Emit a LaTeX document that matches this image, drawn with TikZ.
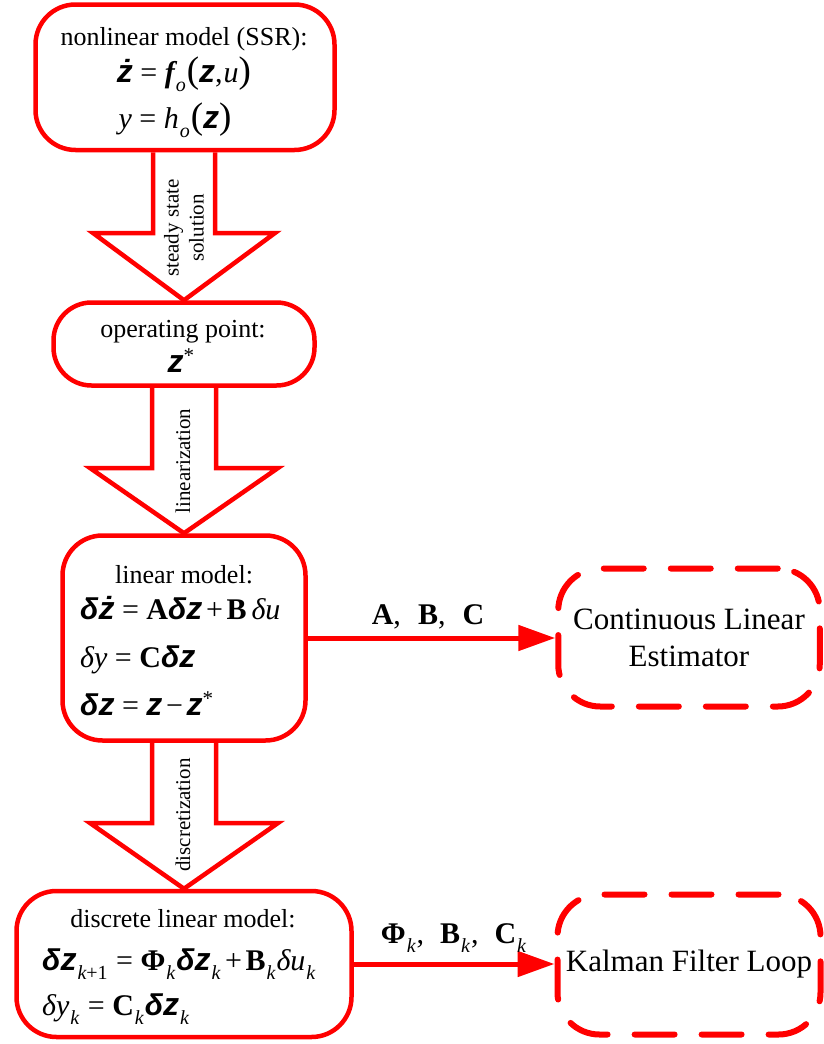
\documentclass[tikz,border=0pt]{standalone}
\usepackage{fontspec}
\setmainfont{Liberation Serif}
\newfontfamily\sansfam{Liberation Sans}
\usetikzlibrary{arrows.meta,calc}
\newcommand\vz{{\sansfam\bfseries\itshape\fontsize{32}{32}\selectfont z}}
\newcommand\vzdot{{\sansfam\bfseries\itshape\fontsize{32}{32}\selectfont ż}}
\newcommand\bd{{\sansfam\bfseries\itshape\fontsize{30}{30}\selectfont δ}}
\newcommand\dl{{\itshape δ}}
\newcommand\sbk[1]{\kern1pt\raisebox{-0.3em}{\fontsize{20}{20}\selectfont\itshape #1}\kern1pt}
\newcommand\eqs{\hspace{0.25em}=\hspace{0.25em}}
\newcommand\pls{\hspace{0.12em}+\hspace{0.12em}}
\newcommand\mns{\hspace{0.12em}−\hspace{0.12em}}
\newcommand\bigp[1]{{\fontsize{37}{37}\selectfont #1}}
\tikzset{
  box/.style={draw=red, line width=4.5pt, rounded corners=40pt, inner sep=0pt},
  dbox/.style={draw=red, line width=6pt, rounded corners=42pt, dash pattern=on 40pt off 27pt,
    line cap=round, inner sep=0pt, align=center, font=\fontsize{31}{37}\selectfont},
  blk/.style={draw=red, line width=4.5pt, line join=miter},
  conn/.style={draw=red, line width=5pt, -{Triangle[length=37pt,width=25pt]}},
  ttl/.style={font=\fontsize{26}{30}\selectfont, anchor=base, inner sep=0pt},
  eqc/.style={font=\fontsize{30}{32}\selectfont, anchor=base, inner sep=0pt},
  eq/.style={font=\fontsize{30}{32}\selectfont, anchor=base west, inner sep=0pt},
  rot/.style={font=\fontsize{21}{25}\selectfont, rotate=90, align=center, inner sep=0pt},
  lab/.style={font=\fontsize{30}{32}\selectfont, anchor=base, inner sep=0pt}
}
\begin{document}
\begin{tikzpicture}[x=1pt,y=-1pt]
\useasboundingbox (0,0) rectangle (823,1044);
% boxes
\node[box, minimum width=299pt, minimum height=145.5pt] (b1) at (185,77.25) {};
\node[box, rounded corners=38pt, minimum width=261pt, minimum height=83pt] (b2) at (184,344) {};
\node[box, minimum width=243pt, minimum height=205pt] (b3) at (184,638) {};
\node[box, minimum width=335pt, minimum height=146pt] (b4) at (184,964) {};
\node[dbox, minimum width=261.5pt, minimum height=138pt] (b5) at (689,637.5) {Continuous Linear\\Estimator};
\node[dbox, minimum width=263pt, minimum height=140pt] (b6) at (689,964.5) {Kalman Filter Loop};
% block arrows
\draw[blk] let \p1=(b2.north), \p2=(b1.south) in
  (\x1-31pt,\y2) -- (\x1-31pt,-233pt) -- (\x1-91pt,-233pt) -- (\p1)
  -- (\x1+91pt,-233pt) -- (\x1+31pt,-233pt) -- (\x1+31pt,\y2);
\draw[blk] let \p1=(b3.north), \p2=(b2.south) in
  (\x1-32pt,\y2) -- (\x1-32pt,-468pt) -- (\x1-94pt,-468pt) -- (\p1)
  -- (\x1+94pt,-468pt) -- (\x1+32pt,-468pt) -- (\x1+32pt,\y2);
\draw[blk] let \p1=(b4.north), \p2=(b3.south) in
  (\x1-32pt,\y2) -- (\x1-32pt,-823pt) -- (\x1-94pt,-823pt) -- (\p1)
  -- (\x1+94pt,-823pt) -- (\x1+32pt,-823pt) -- (\x1+32pt,\y2);
\node[rot] (l1) at (184,228) {steady state\\solution};
\node[rot] (l2) at (183,461) {linearization};
\node[rot] (l3) at (183,815) {discretization};
% connectors
\draw[conn] (b3.east) -- (b3.east -| b5.west);
\draw[conn] (b4.east) -- (b4.east -| b6.west);
\node[lab] (lab1) at (428,624) {\textbf{A},\hspace{17pt}\textbf{B},\hspace{17pt}\textbf{C}};
\node[lab] (lab2) at (454,943) {\textbf{Φ}\sbk{k},\hspace{16pt}\textbf{B}\sbk{k},\hspace{16pt}\textbf{C}\sbk{k}};
% box 1 text
\node[ttl] (t1a) at (184,45) {nonlinear model (SSR):};
\node[eqc] (t1b) at (184,82) {\vzdot\eqs{\bfseries\itshape f}\sbk{o}\bigp{(}\vz,\kern1pt{\itshape u}\bigp{)}};
\node[eqc] (t1c) at (175,128) {{\itshape y}\eqs{\itshape h}\sbk{o}\bigp{(}\vz\bigp{)}};
% box 2 text
\node[ttl] (t2a) at (183,337) {operating point:};
\node[eqc] (t2b) at (181,372) {\vz\textsuperscript{*}};
% box 3 text
\node[ttl] (t3a) at (184,583) {linear model:};
\node[eq] (t3b) at (80,619) {\bd\vzdot\eqs\textbf{A}\bd\vz\pls\textbf{B}\,\dl{\itshape u}};
\node[eq] (t3c) at (80,667) {\dl{\itshape y}\eqs\textbf{C}\bd\vz};
\node[eq] (t3d) at (80,715) {\bd\vz\eqs\vz\mns\vz\textsuperscript{*}};
% box 4 text
\node[ttl] (t4a) at (183,927) {discrete linear model:};
\node[eq] (t4b) at (42,970) {\bd\vz\sbk{k{\upshape +1}}\eqs\textbf{Φ}\sbk{k}\bd\vz\sbk{k}\pls\textbf{B}\sbk{k}\dl{\itshape u}\sbk{k}};
\node[eq] (t4c) at (42,1015) {\dl{\itshape y}\sbk{k}\eqs\textbf{C}\sbk{k}\bd\vz\sbk{k}};
\end{tikzpicture}
\end{document}
